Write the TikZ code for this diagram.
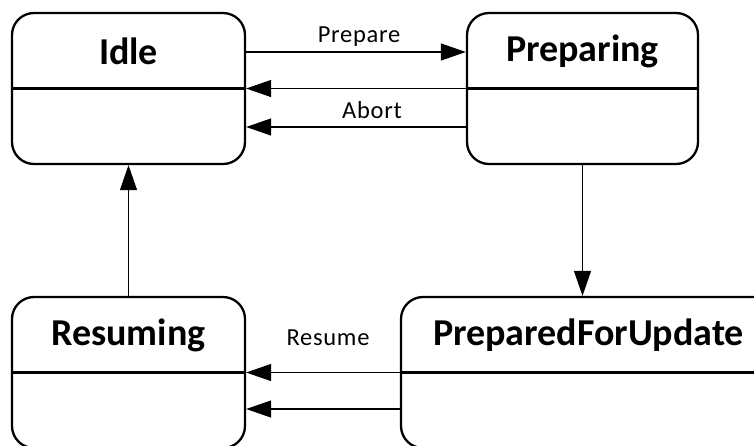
\documentclass[tikz,border=0pt]{standalone}
\usepackage{fontspec}
\setmainfont{Carlito}
\newfontfamily\labelfont[LetterSpace=3]{Carlito}
\usetikzlibrary{arrows.meta}
\begin{document}
\begin{tikzpicture}[x=1pt,y=-1pt,
  state/.style={draw, line width=2.3pt, rounded corners=22pt, minimum height=151pt, inner sep=0pt},
  title/.style={font=\fontsize{38}{40}\selectfont\bfseries},
  divider/.style={line width=2.3pt},
  conn/.style={line width=1.2pt, -{Triangle[length=25pt,width=17pt]}},
  lbl/.style={font=\labelfont\fontsize{24.5}{28}\selectfont, anchor=base, inner sep=0pt}]
  \useasboundingbox (0,0) rectangle (754,445);
  \clip (0,0) rectangle (754,445);

  % states
  \node[state, minimum width=233pt] (idle) at (128.5,88.5) {};
  \node[state, minimum width=231pt] (prep) at (582.5,88.5) {};
  \node[state, minimum width=233pt] (resm) at (128.5,372.5) {};
  \node[state, minimum width=375pt] (pfu)  at (588.5,372.5) {};

  % titles and dividers
  \foreach \s/\t in {idle/Idle, prep/Preparing, resm/Resuming, pfu/PreparedForUpdate}{
    \node[title] at ([yshift=37.5pt]\s.center) {\t};
    \draw[divider] (\s.west) -- (\s.east);
  }

  % transitions
  \draw[conn] ([yshift=36.5pt]idle.east) -- node[lbl, yshift=10pt, xshift=3pt] {Prepare} ([yshift=36.5pt]prep.west);
  \draw[conn] (prep.west) -- (idle.east);
  \draw[conn] ([yshift=-38.5pt]prep.west) -- node[lbl, yshift=9pt, xshift=16pt] {Abort} ([yshift=-38.5pt]idle.east);
  \draw[conn] (prep.south) -- (prep.south |- pfu.north);
  \draw[conn] (resm.north) -- (idle.south);
  \draw[conn] (pfu.west) -- node[lbl, yshift=27pt, xshift=5pt] {Resume} (resm.east);
  \draw[conn] ([yshift=-36.5pt]pfu.west) -- ([yshift=-36.5pt]resm.east);
\end{tikzpicture}
\end{document}
